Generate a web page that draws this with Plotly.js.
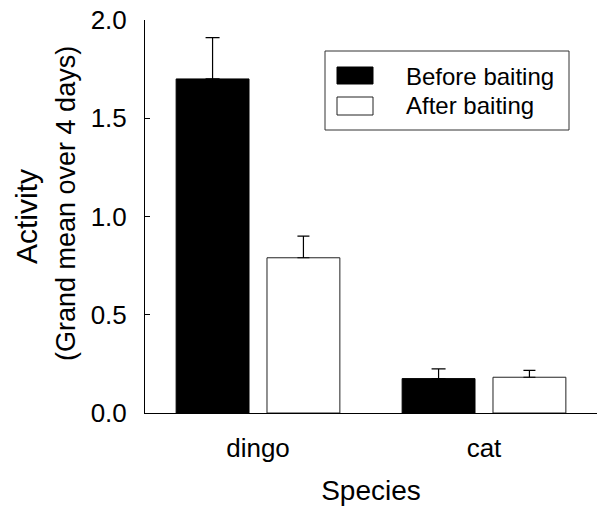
<!DOCTYPE html>
<html>
<head>
<meta charset="utf-8">
<script src="https://cdn.plot.ly/plotly-3.0.1.min.js"></script>
<style>html,body{margin:0;padding:0;background:#fff;}#chart{width:598px;height:507px;}</style>
</head>
<body>
<div id="chart"></div>
<script>
// ---- data ----
const species = ["dingo", "cat"];
const seriesNames = ["Before baiting", "After baiting"];
const beforeValues = [1.70, 0.175];
const beforeErrors = [0.21, 0.05];
const afterValues = [0.79, 0.182];
const afterErrors = [0.11, 0.035];
const yTickValues = [0, 0.5, 1.0, 1.5, 2.0];
const yTickLabels = ["0.0", "0.5", "1.0", "1.5", "2.0"];

// ---- layout helpers (pixel -> paper) ----
const W = 598, H = 507;
const M = {l: 145, r: 1, t: 20, b: 94};
const pw = W - M.l - M.r, ph = H - M.t - M.b;
const px = x => (x - M.l) / pw;
const py = y => (H - M.b - y) / ph;

const FONT = "Liberation Sans, Arial, Helvetica, sans-serif";

const traces = [
  {
    type: "bar", name: seriesNames[0], x: species, y: beforeValues,
    marker: {color: "#000000", line: {color: "#000000", width: 1}},
    error_y: {type: "data", array: beforeErrors, arrayminus: [0, 0], symmetric: false,
              color: "#000000", thickness: 1.2, width: 7},
    showlegend: false
  },
  {
    type: "bar", name: seriesNames[1], x: species, y: afterValues,
    marker: {color: "#ffffff", line: {color: "#222222", width: 1}},
    error_y: {type: "data", array: afterErrors, arrayminus: [0, 0], symmetric: false,
              color: "#000000", thickness: 1.2, width: 6},
    showlegend: false
  }
];

const layout = {
  width: W, height: H,
  margin: M,
  paper_bgcolor: "#ffffff", plot_bgcolor: "#ffffff",
  font: {family: FONT, color: "#000000"},
  barmode: "group", bargap: 0.196, bargroupgap: 0.198,
  showlegend: false,
  xaxis: {
    type: "category", range: [-0.5, 1.5],
    showline: true, linecolor: "#000000", linewidth: 1,
    ticks: "", showgrid: false, zeroline: false,
    tickfont: {family: FONT, size: 26, color: "#000000"},
    ticklabelstandoff: 12,
    title: {text: "Species", font: {family: FONT, size: 28, color: "#000000"}, standoff: 18},
    automargin: false
  },
  yaxis: {
    range: [0, 2], tickvals: yTickValues, ticktext: yTickLabels,
    showline: true, linecolor: "#000000", linewidth: 1,
    ticks: "inside", ticklen: 5, tickcolor: "#000000", tickwidth: 1,
    showgrid: false, zeroline: false,
    tickfont: {family: FONT, size: 26, color: "#000000"},
    ticklabelstandoff: 12,
    title: {text: "Activity", font: {family: FONT, size: 30, color: "#000000"}, standoff: 44},
    automargin: false
  },
  annotations: [
    {xref: "paper", yref: "paper", x: px(66), y: py(204), xanchor: "center", yanchor: "middle",
     text: "(Grand mean over 4 days)", textangle: -90, showarrow: false,
     font: {family: FONT, size: 27, color: "#000000"}},
    {xref: "paper", yref: "paper", x: px(404), y: py(76), xanchor: "left", yanchor: "middle",
     text: seriesNames[0], showarrow: false, font: {family: FONT, size: 24, color: "#000000"}},
    {xref: "paper", yref: "paper", x: px(404), y: py(106), xanchor: "left", yanchor: "middle",
     text: seriesNames[1], showarrow: false, font: {family: FONT, size: 24, color: "#000000"}}
  ],
  shapes: [
    {type: "rect", xref: "paper", yref: "paper", x0: px(325), x1: px(569), y0: py(51), y1: py(130),
     line: {color: "#333333", width: 1}, fillcolor: "rgba(0,0,0,0)"},
    {type: "rect", xref: "paper", yref: "paper", x0: px(337), x1: px(373), y0: py(67), y1: py(84),
     line: {color: "#000000", width: 1}, fillcolor: "#000000"},
    {type: "rect", xref: "paper", yref: "paper", x0: px(337), x1: px(373), y0: py(97), y1: py(115),
     line: {color: "#222222", width: 1}, fillcolor: "#ffffff"}
  ]
};

Plotly.newPlot("chart", traces, layout, {staticPlot: true, displayModeBar: false});
</script>
</body>
</html>
